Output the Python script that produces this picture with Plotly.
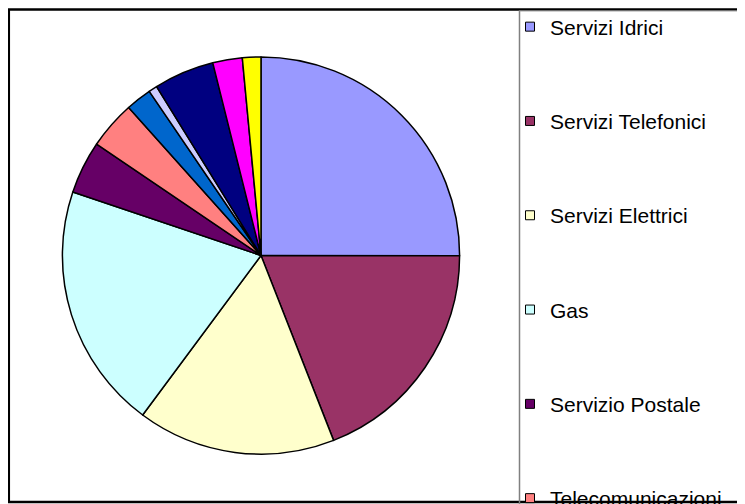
import plotly.graph_objects as go

labels = ["Servizi Idrici", "Servizi Telefonici", "Servizi Elettrici", "Gas",
          "Servizio Postale", "Telecomunicazioni", "Trasporti", "Servizi Bancari",
          "Servizi Finanziari", "Assicurazioni", "Altro"]
values = [25.0, 19.0, 16.1, 20.0, 4.3, 3.9, 2.1, 0.7, 4.9, 2.4, 1.5]
colors = ["#9999FF", "#993366", "#FFFFCC", "#CCFFFF", "#660066", "#FF8080",
          "#0066CC", "#CCCCFF", "#000080", "#FF00FF", "#FFFF00"]

W, H = 745, 504
# page body margin shifts the figure by 8px; positions below are in figure px
cx, cy, r = 253, 247, 199

fig = go.Figure()
fig.add_trace(go.Pie(
    labels=labels, values=values, sort=False, direction="clockwise", rotation=0,
    marker=dict(colors=colors, line=dict(color="black", width=1.5)),
    textinfo="none", showlegend=False,
    domain=dict(x=[(cx - r) / W, (cx + r) / W], y=[1 - (cy + r) / H, 1 - (cy - r) / H]),
))
for i, (lab, col) in enumerate(zip(labels, colors)):
    fig.add_trace(go.Scatter(
        x=[None], y=[None], mode="markers", name=lab, legendgroup=f"g{i}",
        marker=dict(symbol="square", size=9, color=col, line=dict(color="black", width=1)),
    ))

fig.update_layout(
    width=W, height=H, margin=dict(l=0, r=0, t=0, b=0),
    paper_bgcolor="white", plot_bgcolor="white",
    xaxis=dict(visible=False), yaxis=dict(visible=False),
    font=dict(family="Liberation Sans, Arial, sans-serif", size=21, color="black"),
    legend=dict(x=502 / W, y=1 + 1.5 / H, xanchor="left", yanchor="top",
                tracegroupgap=64, bgcolor="rgba(0,0,0,0)", maxheight=3000,
                itemclick=False, itemdoubleclick=False),
    shapes=[
        dict(type="rect", xref="paper", yref="paper", x0=0.8 / W, x1=1.2,
             y0=1 - 494 / H, y1=1 - 0.5 / H, line=dict(color="black", width=2.5)),
        dict(type="line", xref="paper", yref="paper", x0=511.5 / W, x1=511.5 / W,
             y0=0, y1=1 - 1.5 / H, line=dict(color="#808080", width=1.5)),
        dict(type="line", xref="paper", yref="paper", x0=511.5 / W, x1=1.2,
             y0=1 - 2 / H, y1=1 - 2 / H, line=dict(color="#A0A0A0", width=1)),
    ],
)
fig.write_html("out.html")
